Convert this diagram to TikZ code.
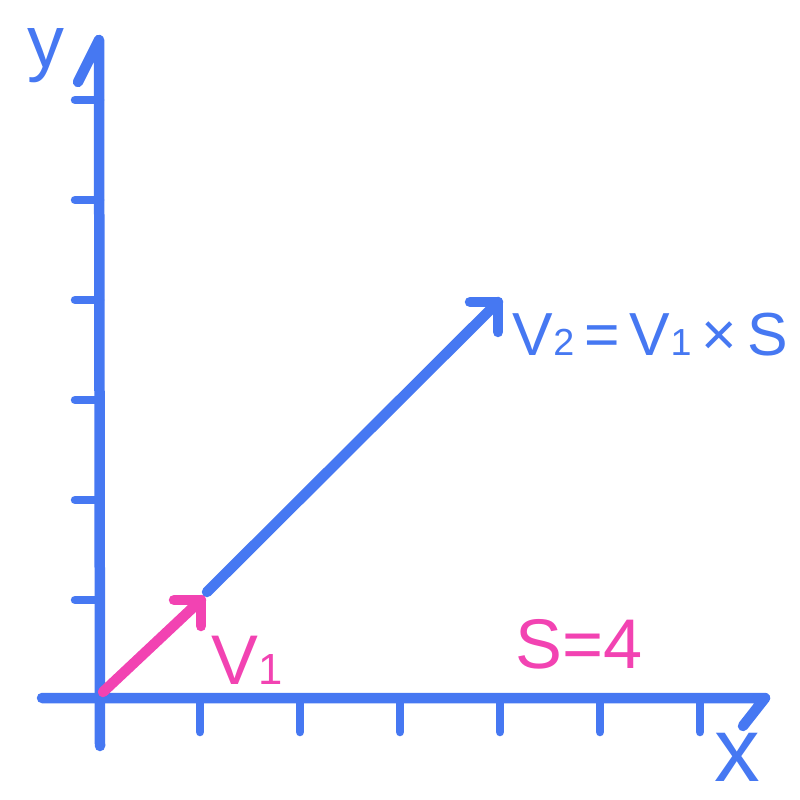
\documentclass[tikz,border=0pt]{standalone}
\usepackage{fontspec}
\setmainfont{Liberation Sans}
\usetikzlibrary{calc}
\definecolor{penblue}{HTML}{4678F2}
\definecolor{penpink}{HTML}{F243B2}
\newcommand\sbs[1]{\scalebox{0.62}{#1}}
\begin{document}
\begin{tikzpicture}[x=0.1mm,y=-0.1mm,
  axis/.style={draw=penblue,line width=1.05mm,line cap=round,line join=round},
  tick/.style={draw=penblue,line width=0.85mm,line cap=round},
  vecb/.style={draw=penblue,line width=1.05mm,line cap=round,line join=round},
  vecp/.style={draw=penpink,line width=1.05mm,line cap=round,line join=round},
  lblb/.style={text=penblue,inner sep=0pt},
  lblp/.style={text=penpink,inner sep=0pt}]
\useasboundingbox (0,0) rectangle (800,800);
% axes
\coordinate (O) at (100,698);
\coordinate (xs) at (42,698);
\coordinate (xe) at (765,698);
\coordinate (yb) at (100,746);
\coordinate (yt) at (99,40);
\draw[axis] (xs) -- (xe) -- ++(-22,28);
\draw[axis] (yb) -- (yt) -- ++(-21,42);
% ticks
\foreach \i in {200,300,400,500,600,700} {
  \coordinate (xt\i) at (\i,698);
  \draw[tick] (xt\i) -- ++(0,34);
}
\foreach \j in {100,200,300,400,500,600} {
  \coordinate (yt\j) at (100,\j);
  \draw[tick] (yt\j) -- ++(-25,0);
}
% vectors
\coordinate (v1s) at (103,692);
\coordinate (v1e) at (201,600);
\coordinate (v2s) at (207,592);
\coordinate (v2e) at (498,302);
\draw[vecb] (v2s) -- (v2e);
\draw[vecb] ($(v2e)+(-28,0)$) -- (v2e) -- ++(0,30);
\draw[vecp] (v1s) -- (v1e);
\draw[vecp] ($(v1e)+(-27,0)$) -- (v1e) -- ++(0,26);
% labels
\node[lblb,anchor=base west] (v2lbl) at (512,356) {\fontsize{17.3}{21}\selectfont V\sbs{2}\,=\,V\sbs{1}\,×\,S};
\node[lblp,anchor=base west] (v1lbl) at (211,684) {\fontsize{20}{24}\selectfont V\sbs{1}};
\node[lblp,anchor=base west] (slbl) at (515,668) {\fontsize{20}{24}\selectfont S=4};
\node[lblb] (xlbl) at (737,757) {\fontsize{26}{30}\selectfont x};
\node[lblb] (ylbl) at (46,56) {\fontsize{21}{25}\selectfont y};
\end{tikzpicture}
\end{document}
